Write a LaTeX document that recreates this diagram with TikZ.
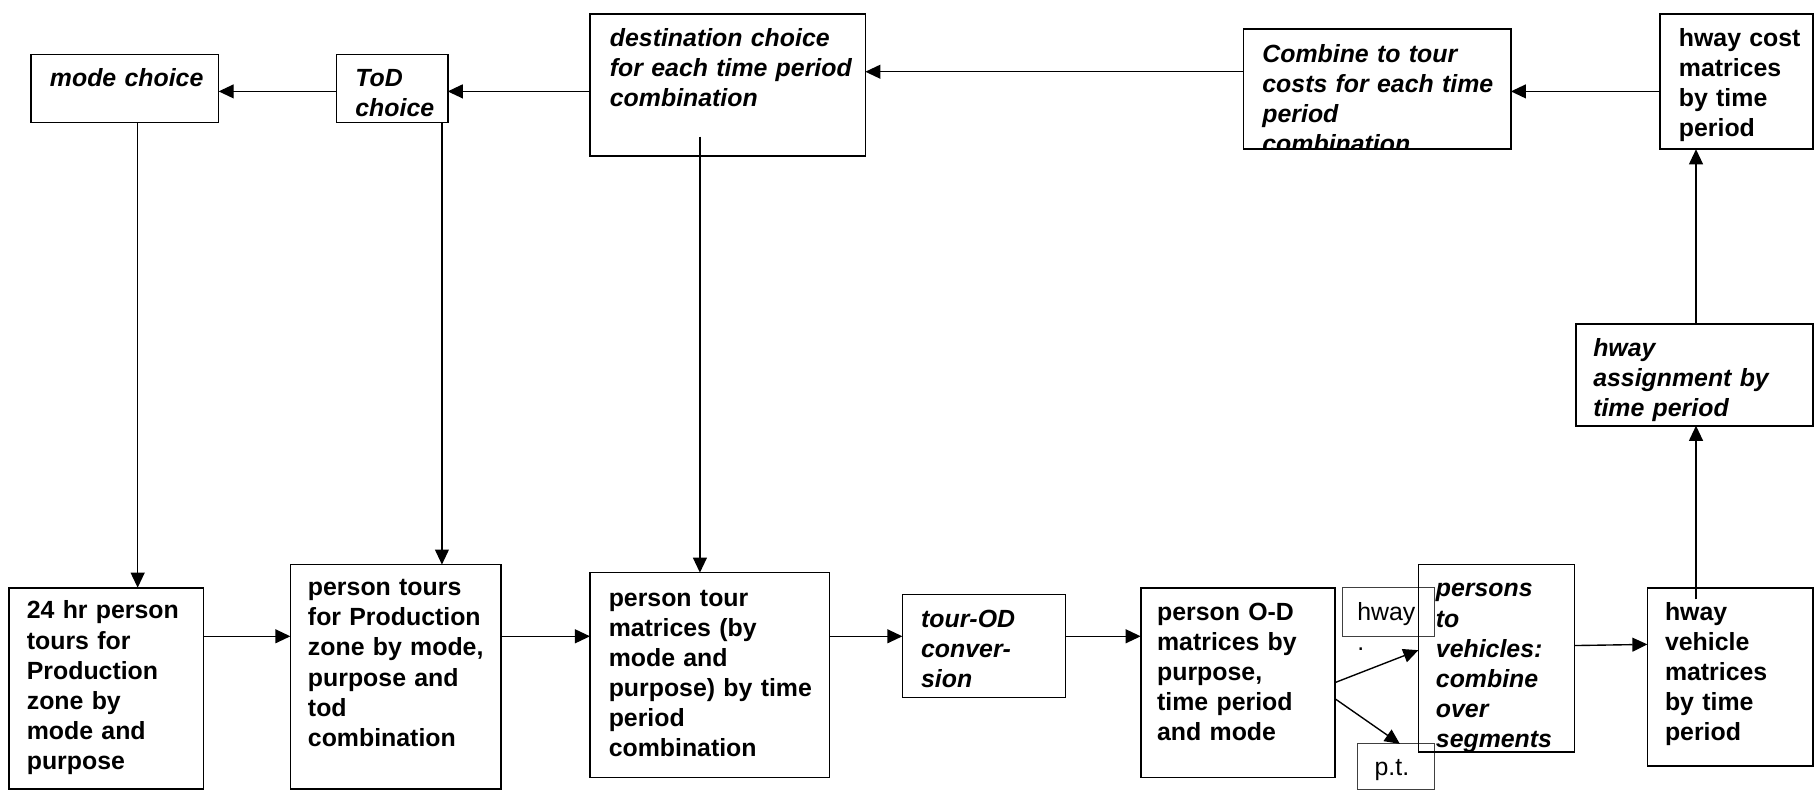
\documentclass[tikz,border=0pt]{standalone}
\usepackage{fontspec}
\setmainfont{Liberation Sans}
\usetikzlibrary{arrows.meta,calc}
\begin{document}
\begin{tikzpicture}[x=1pt,y=-1pt,
  box/.style={draw,line width=1.4pt,inner sep=0pt,outer sep=0pt},
  lbox/.style={draw=black!75,line width=0.7pt,inner sep=0pt,outer sep=0pt},
  txt/.style={anchor=base west,align=left,inner sep=0pt,text width=320pt,font=\fontsize{21.5}{26}\selectfont\bfseries},
  itxt/.style={txt,font=\fontsize{21.5}{26}\selectfont\bfseries\itshape},
  rtxt/.style={txt,font=\fontsize{21.5}{26}\selectfont},
  arr/.style={line width=1.2pt,-{Triangle[length=13pt,width=12pt]}}]
\useasboundingbox (0,0) rectangle (1568,683);

% boxes
\node[box,minimum width=162pt,minimum height=59pt] (mode) at (108,76.5) {};
\node[box,minimum width=96pt,minimum height=59pt] (tod) at (339,76.5) {};
\node[box,minimum width=238pt,minimum height=123pt] (dest) at (629,73.5) {};
\node[box,minimum width=231pt,minimum height=104pt] (comb) at (1190.5,77) {};
\node[box,minimum width=132pt,minimum height=117pt] (hcost) at (1501,70.5) {};
\node[box,minimum width=205pt,minimum height=88pt] (hassign) at (1464.5,324) {};
\node[box,minimum width=168pt,minimum height=174pt] (b1) at (92,595) {};
\node[box,minimum width=182pt,minimum height=194pt] (b2) at (342,585) {};
\node[box,minimum width=207pt,minimum height=177pt] (b3) at (613.5,583.5) {};
\node[box,minimum width=141pt,minimum height=89pt] (b4) at (850.5,558.5) {};
\node[box,minimum width=168pt,minimum height=164pt] (b5) at (1070,590) {};
\node[lbox,minimum width=80pt,minimum height=42pt] (hwl) at (1200,529) {};
\node[lbox,minimum width=67pt,minimum height=39pt] (ptl) at (1206.5,662.5) {};
\node[box,minimum width=135pt,minimum height=162pt] (b6) at (1293.5,569) {};
\node[box,minimum width=143pt,minimum height=154pt] (b7) at (1495.5,585) {};

% texts
\node[itxt] (modet) at ($(mode.north west)+(16,28)$) {mode choice};
\node[itxt] (todt) at ($(tod.north west)+(16,28)$) {ToD\\choice};
\node[itxt] (destt) at ($(dest.north west)+(17,28)$) {destination choice\\for each time period\\combination};
\begin{scope}
\clip (comb.south west) rectangle (comb.north east);
\node[itxt] (combt) at ($(comb.north west)+(16,29)$) {Combine to tour\\costs for each time\\period\\combination};
\end{scope}
\node[txt] (hcostt) at ($(hcost.north west)+(16,28)$) {hway cost\\matrices\\by time\\period};
\node[itxt] (hassignt) at ($(hassign.north west)+(15,28)$) {hway\\assignment by\\time period};
\node[txt] (b1t) at ($(b1.north west)+(15,27)$) {24 hr person\\tours for\\Production\\zone by\\mode and\\purpose};
\node[txt] (b2t) at ($(b2.north west)+(15,27)$) {person tours\\for Production\\zone by mode,\\purpose and\\tod\\combination};
\node[txt] (b3t) at ($(b3.north west)+(16,29)$) {person tour\\matrices (by\\mode and\\purpose) by time\\period\\combination};
\node[itxt] (b4t) at ($(b4.north west)+(16,28)$) {tour-OD\\conver-\\sion};
\node[txt] (b5t) at ($(b5.north west)+(14,28)$) {person O-D\\matrices by\\purpose,\\time period\\and mode};
\node[rtxt] (hwlt) at ($(hwl.north west)+(13,28)$) {hway\\.};
\node[rtxt] (ptlt) at ($(ptl.north west)+(15,27)$) {p.t.};
\begin{scope}
\clip (b6.south west) rectangle (b6.north east);
\node[itxt] (b6t) at ($(b6.north west)+(15,28)$) {persons\\to\\vehicles:\\combine\\over\\segments};
\end{scope}
\node[txt] (b7t) at ($(b7.north west)+(15,28)$) {hway\\vehicle\\matrices\\by time\\period};

% connectors, top row
\draw[arr] ($(tod.west)+(0,2.5)$) -- ($(mode.east)+(0,2.5)$);
\draw[arr] ($(dest.west)+(0,5.5)$) -- ($(tod.east)+(0,2.5)$);
\draw[arr] ($(comb.west)+(0,-15)$) -- ($(dest.east)+(0,-11.5)$);
\draw[arr] ($(hcost.west)+(0,8.5)$) -- ($(comb.east)+(0,2)$);
\draw[arr] ($(hassign.north)+(1.5,0)$) -- ($(hcost.south)+(-35,0)$);
\draw[arr] ($(b7.north)+(-29.5,10)$) -- ($(hassign.south)+(1.5,0)$);
% verticals down
\draw[arr] ($(mode.south)+(11,0)$) -- ($(b1.north)+(27,0)$);
\draw[arr] ($(tod.south)+(43,0)$) -- ($(b2.north)+(40,0)$);
\draw[arr] ($(dest.south)+(-24,-17)$) -- ($(b3.north)+(-8.5,0)$);
% bottom row
\draw[arr] ($(b1.east)+(0,-45)$) -- ($(b2.west)+(0,-35)$);
\draw[arr] ($(b2.east)+(0,-35)$) -- ($(b3.west)+(0,-33.5)$);
\draw[arr] ($(b3.east)+(0,-33.5)$) -- ($(b4.west)+(0,-8.5)$);
\draw[arr] ($(b4.east)+(0,-8.5)$) -- ($(b5.west)+(0,-40)$);
\draw[arr] (b5.east) -- ($(b6.west)+(0,-7)$);
\draw[arr] ($(b5.east)+(0,14)$) -- ($(ptl.north)+(3.5,0)$);
\draw[arr] ($(b6.east)+(0,-11)$) -- ($(b7.west)+(0,-28)$);
\end{tikzpicture}
\end{document}
